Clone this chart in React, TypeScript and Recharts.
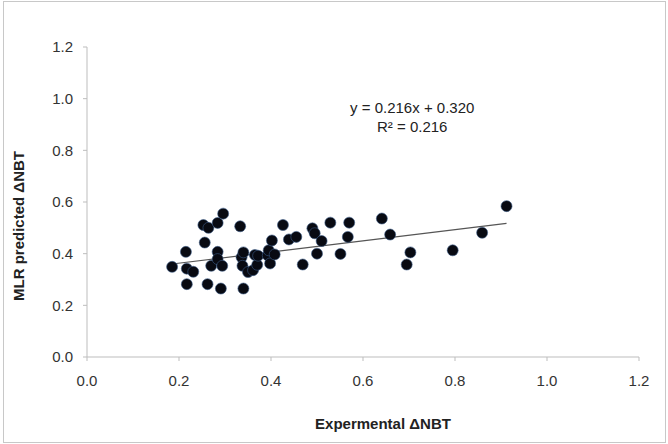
import { ScatterChart, Scatter, XAxis, YAxis, ReferenceLine, ReferenceDot, Label } from 'recharts';

const expNBT = [
  0.185, 0.215, 0.217, 0.217, 0.231, 0.253, 0.256, 0.264, 0.262, 0.27,
  0.284, 0.284, 0.284, 0.291, 0.294, 0.296, 0.333, 0.336, 0.338, 0.34,
  0.34, 0.35, 0.361, 0.365, 0.37, 0.372, 0.393, 0.395, 0.398, 0.402,
  0.408, 0.426, 0.439, 0.455, 0.469, 0.49, 0.495, 0.5, 0.51, 0.529,
  0.551, 0.567, 0.57, 0.641, 0.659, 0.695, 0.703, 0.795, 0.859, 0.912,
];
const mlrNBT = [
  0.349, 0.407, 0.342, 0.282, 0.33, 0.511, 0.443, 0.5, 0.282, 0.353,
  0.519, 0.407, 0.379, 0.265, 0.353, 0.555, 0.506, 0.386, 0.353, 0.405,
  0.265, 0.329, 0.336, 0.395, 0.357, 0.392, 0.393, 0.413, 0.362, 0.451,
  0.397, 0.511, 0.455, 0.465, 0.358, 0.498, 0.479, 0.4, 0.449, 0.52,
  0.399, 0.465, 0.52, 0.536, 0.474, 0.358, 0.405, 0.413, 0.481, 0.584,
];

const xTicks = [0, 0.2, 0.4, 0.6, 0.8, 1.0, 1.2];
const yTicks = [0, 0.2, 0.4, 0.6, 0.8, 1.0, 1.2];

const slope = 0.216;
const intercept = 0.32;
const rSquared = 0.216;
const equationAt = { x: 0.707, y: 0.93 };

const points = expNBT.map((x, i) => ({ x, y: mlrNBT[i] }));
const xMin = Math.min(...expNBT);
const xMax = Math.max(...expNBT);

const font = '"Liberation Sans", Arial, sans-serif';
const axisColor = '#bdbdbd';

const Dot = (props: any) => (
  <circle cx={props.cx} cy={props.cy} r={5.5} fill="#080a12" stroke="#3a5a86" strokeWidth={0.6} />
);

export default function App() {
  return (
    <div style={{ position: 'absolute', left: 0, top: 0, width: 668, height: 444, background: '#fff' }}>
      <div
        style={{
          position: 'absolute',
          left: 3,
          top: 1,
          width: 661,
          height: 440,
          border: '1px solid #c8c8c8',
        }}
      />
      <ScatterChart width={668} height={444} margin={{ top: 47, right: 29, bottom: 0, left: 0 }}>
        <XAxis
          type="number"
          dataKey="x"
          domain={[0, 1.2]}
          ticks={xTicks}
          height={87}
          tickFormatter={(v: number) => v.toFixed(1)}
          stroke={axisColor}
          tickSize={4}
          tickMargin={14}
          tick={{ fontSize: 15, fill: '#333', fontFamily: font }}
        >
          <Label
            content={(p: any) => {
              const vb = p.viewBox;
              return (
                <text
                  x={vb.x + vb.width / 2 + 20}
                  y={vb.y + 72}
                  textAnchor="middle"
                  fontFamily={font}
                  fontWeight="bold"
                  fontSize={15}
                  fill="#222"
                >
                  Expermental ΔNBT
                </text>
              );
            }}
          />
        </XAxis>
        <YAxis
          type="number"
          dataKey="y"
          domain={[0, 1.2]}
          ticks={yTicks}
          width={87}
          tickFormatter={(v: number) => v.toFixed(1)}
          stroke={axisColor}
          tickSize={4}
          tickMargin={10}
          tick={{ fontSize: 15, fill: '#333', fontFamily: font }}
        >
          <Label
            content={(p: any) => {
              const vb = p.viewBox;
              const cx = vb.x + 24;
              const cy = vb.y + vb.height / 2 + 24;
              return (
                <text
                  x={cx}
                  y={cy}
                  transform={`rotate(-90, ${cx}, ${cy})`}
                  textAnchor="middle"
                  fontFamily={font}
                  fontWeight="bold"
                  fontSize={15}
                  fill="#222"
                >
                  MLR predicted ΔNBT
                </text>
              );
            }}
          />
        </YAxis>
        <ReferenceLine
          segment={[
            { x: xMin, y: slope * xMin + intercept },
            { x: xMax, y: slope * xMax + intercept },
          ]}
          stroke="#555"
          strokeWidth={1.2}
          ifOverflow="visible"
        />
        <Scatter data={points} shape={Dot} isAnimationActive={false} />
        <ReferenceDot
          x={equationAt.x}
          y={equationAt.y}
          r={0}
          fill="none"
          stroke="none"
          ifOverflow="visible"
          label={(p: any) => {
            const vb = p.viewBox;
            const cx = vb.x + (vb.width || 0) / 2;
            const cy = vb.y + (vb.height || 0) / 2;
            return (
              <text textAnchor="middle" fontFamily={font} fontSize={15} fill="#222">
                <tspan x={cx} y={cy - 4}>{`y = ${slope.toFixed(3)}x + ${intercept.toFixed(3)}`}</tspan>
                <tspan x={cx} y={cy + 15}>{`R² = ${rSquared.toFixed(3)}`}</tspan>
              </text>
            );
          }}
        />
      </ScatterChart>
    </div>
  );
}
